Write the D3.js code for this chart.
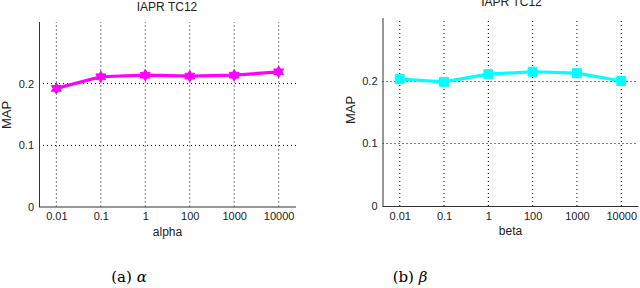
<!DOCTYPE html>
<html>
<head>
<meta charset="utf-8">
<script src="https://cdn.jsdelivr.net/npm/d3@7"></script>
<style>
  html, body { margin: 0; padding: 0; background: #fff; }
  svg { display: block; }
</style>
</head>
<body>
<svg id="chart" width="640" height="288"></svg>
<script>
// data
const xLabels = ["0.01", "0.1", "1", "100", "1000", "10000"];
const alphaMAP = [0.192, 0.211, 0.2135, 0.212, 0.2135, 0.219];
const betaMAP = [0.2025, 0.198, 0.2105, 0.2142, 0.212, 0.1994];
const yTicks = [0, 0.1, 0.2];
const yTickLabels = ["0", "0.1", "0.2"];

const svg = d3.select("#chart");
const SANS = "'Liberation Sans', Arial, Helvetica, sans-serif";

// six-pointed star (MATLAB 'hexagram')
const hexagram = {
  draw(ctx, size) {
    const r = Math.sqrt(size) / 2, ri = r / Math.sqrt(3);
    for (let i = 0; i < 12; i++) {
      const a = -Math.PI / 2 + i * Math.PI / 6;
      const rr = i % 2 ? ri : r;
      const x = Math.cos(a) * rr, y = Math.sin(a) * rr;
      i ? ctx.lineTo(x, y) : ctx.moveTo(x, y);
    }
    ctx.closePath();
  }
};

function panel(cfg) {
  const g = svg.append("g");

  const x = d3.scalePoint().domain(xLabels).range([cfg.x0, cfg.x1]).padding(0.39);
  const y = d3.scaleLinear().domain([0, 0.3]).range([cfg.yb, cfg.yt]);

  // grid (dotted)
  g.append("g").selectAll("line.vg").data(xLabels).enter().append("line")
    .attr("x1", d => x(d)).attr("x2", d => x(d))
    .attr("y1", cfg.yb).attr("y2", cfg.yt)
    .attr("stroke", "#000").attr("stroke-width", 1).attr("stroke-dasharray", "1,3");
  g.append("g").selectAll("line.hg").data(yTicks.filter(d => d > 0)).enter().append("line")
    .attr("x1", cfg.x0).attr("x2", cfg.x1)
    .attr("y1", d => Math.round(y(d)) + 0.5).attr("y2", d => Math.round(y(d)) + 0.5)
    .attr("stroke", "#000").attr("stroke-width", 1).attr("stroke-dasharray", "1,3");

  // axes
  const xAxis = d3.axisBottom(x).tickSize(0).tickPadding(6);
  const gx = g.append("g").attr("transform", `translate(0,${cfg.yb})`).call(xAxis);
  gx.select(".domain").attr("d", `M${cfg.x0},0.5H${cfg.x1}`).attr("stroke", "#333");
  gx.selectAll("text").attr("font-family", SANS).attr("font-size", 11).attr("fill", "#222");

  const yAxis = d3.axisLeft(y).tickValues(yTicks).tickFormat((d, i) => yTickLabels[i])
    .tickSize(0).tickPadding(5);
  const gy = g.append("g").attr("transform", `translate(${cfg.x0},0)`).call(yAxis);
  gy.select(".domain").attr("d", `M0.5,${cfg.yt}V${cfg.yb + 0.5}`).attr("stroke", "#333");
  gy.selectAll("text").attr("font-family", SANS).attr("font-size", 11).attr("fill", "#222");

  // line + markers
  const line = d3.line().x((d, i) => x(xLabels[i])).y(d => y(d));
  g.append("path").datum(cfg.values)
    .attr("d", line).attr("fill", "none")
    .attr("stroke", cfg.color).attr("stroke-width", 3.2).attr("stroke-linejoin", "round");
  g.append("g").selectAll("path.m").data(cfg.values).enter().append("path")
    .attr("transform", (d, i) => `translate(${x(xLabels[i])},${y(d)})`)
    .attr("d", d3.symbol().type(cfg.marker).size(cfg.markerSize))
    .attr("fill", cfg.color).attr("stroke", cfg.color).attr("stroke-width", 1);

  // title and labels
  g.append("text").attr("x", cfg.titleX).attr("y", cfg.titleY)
    .attr("text-anchor", "middle").attr("dominant-baseline", "middle")
    .attr("font-family", SANS).attr("font-size", 12).attr("fill", "#222")
    .text("IAPR TC12");
  g.append("text").attr("x", (cfg.x0 + cfg.x1) / 2).attr("y", cfg.yb + 26)
    .attr("text-anchor", "middle").attr("dominant-baseline", "middle")
    .attr("font-family", SANS).attr("font-size", 12).attr("fill", "#222")
    .text(cfg.xLabel);
  g.append("text")
    .attr("transform", `translate(${cfg.x0 - 31},${cfg.yMid}) rotate(-90)`)
    .attr("text-anchor", "middle").attr("dominant-baseline", "middle")
    .attr("font-family", SANS).attr("font-size", 13).attr("fill", "#222")
    .text("MAP");

  // caption
  const cap = g.append("text").attr("x", cfg.capX).attr("y", 278)
    .attr("text-anchor", "middle").attr("dominant-baseline", "middle")
    .attr("font-family", "'DejaVu Serif', 'Liberation Serif', serif").attr("font-size", 15)
    .attr("fill", "#000");
  cap.append("tspan").text(cfg.capPre + " ");
  cap.append("tspan").attr("font-style", "italic").text(cfg.capSym);
}

panel({
  x0: 39, x1: 296, yt: 22, yb: 206.5, yMid: 115,
  values: alphaMAP, color: "#ff00ff", marker: hexagram, markerSize: 130,
  titleX: 167, titleY: 8, xLabel: "alpha",
  capX: 129, capPre: "(a)", capSym: "α"
});

panel({
  x0: 382.5, x1: 638.5, yt: 18, yb: 206, yMid: 110,
  values: betaMAP, color: "#00ffff", marker: d3.symbolSquare, markerSize: 80,
  titleX: 511.5, titleY: 3, xLabel: "beta",
  capX: 410, capPre: "(b)", capSym: "β"
});
</script>
</body>
</html>
